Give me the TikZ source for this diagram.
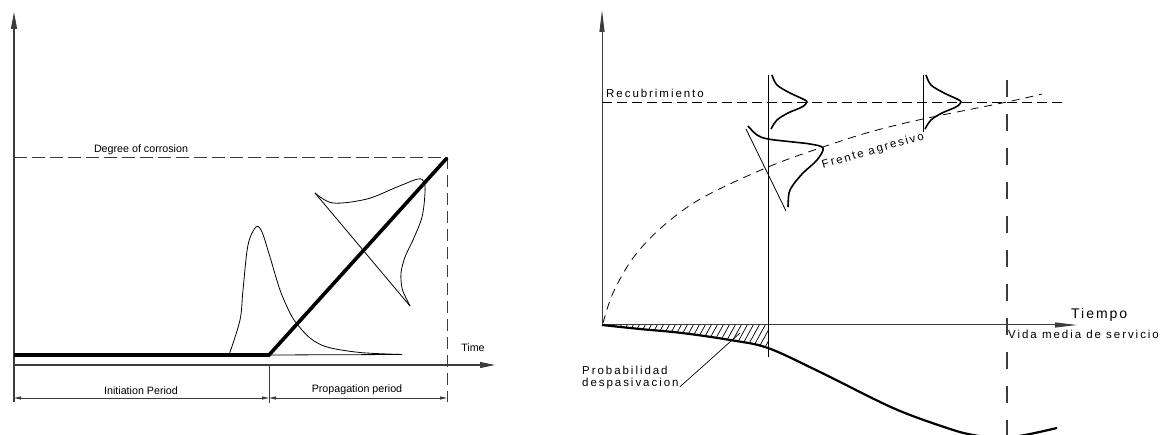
\documentclass[tikz,border=0pt]{standalone}
\usepackage{fontspec}
\setmainfont{Liberation Sans}
\newfontfamily\spacedfont[LetterSpace=17]{Liberation Sans}
\newfontfamily\tiempofont[LetterSpace=14]{Liberation Sans}
\usetikzlibrary{arrows.meta}
\definecolor{axisgray}{RGB}{60,60,60}
\begin{document}
\begin{tikzpicture}[x=1pt,y=-1pt,
  axis/.style={line width=1.1pt, draw=axisgray},
  thinline/.style={line width=0.8pt, draw=black},
  thickline/.style={line width=3.6pt, draw=black},
  distline/.style={line width=1.6pt, draw=black},
  lbl/.style={font=\fontsize{10.7}{12}\selectfont, inner sep=0pt},
  rlbl/.style={font=\spacedfont\fontsize{11.5}{13}\selectfont, inner sep=0pt},
  ldash/.style={line width=1pt, draw=axisgray, dash pattern=on 12.5pt off 5.5pt},
  rdashv/.style={line width=1.1pt, draw=axisgray, dash pattern=on 17pt off 17pt},
  rdashh/.style={line width=0.9pt, draw=black, dash pattern=on 10pt off 5pt},
  fdash/.style={line width=0.8pt, draw=black, dash pattern=on 8pt off 6pt},
  bigtip/.style={-{Triangle[length=17pt,width=6pt]}},
  rtip/.style={-{Triangle[length=22pt,width=5pt]}},
  dimtip/.style={{Triangle[length=7pt,width=3pt]}-{Triangle[length=7pt,width=3pt]}}
]
\useasboundingbox (0,0) rectangle (1163,435);

% ================= LEFT DIAGRAM =================
\coordinate (LO) at (14,365);
\coordinate (LYtop) at (14,12);
\coordinate (LYbot) at (14,402);
\coordinate (LXend) at (495,365);
\coordinate (Lknee) at (269,355);
\coordinate (Lstart) at (14,355);
\coordinate (Ltop) at (447,158);
\coordinate (Ldl) at (14,158);
\coordinate (Ldb) at (447,402);

\draw[axis] (LYbot) -- (LO);
\draw[axis, bigtip] (LO) -- (LYtop);
\draw[axis, -{Triangle[length=15pt,width=6pt]}] (LO) -- (LXend);

\draw[ldash] (Ldl) -- (Ltop) -- (Ldb);

% thin baseline under tail
\coordinate (Ltail) at (402,354.5);
\draw[thinline] (Lknee) -- (Ltail);

% skewed distribution (initiation)
\draw[thinline] plot[smooth, tension=0.55] coordinates {
 (229,355) (240,320) (243,290) (248,245) (256,227) (262,232) (270,257)
 (280,290) (290,313) (297,324) (310,338) (327,347) (360,352.5) (402,354.5)};

% rotated distribution (propagation)
\coordinate (Lc1) at (315,193);
\coordinate (Lc2) at (410,306);
\draw[thinline] (Lc1) -- (Lc2);
\draw[thinline] plot[smooth, tension=0.55] coordinates {
 (315,193) (333,203) (367,199) (397,187) (418,179) (424,182) (425,193)
 (422,217) (413,240) (405,257) (401,273) (402,288) (406,298) (410,306)};

% thick corrosion line
\draw[thickline, line join=miter] (Lstart) -- (Lknee) -- (Ltop);

% dimension lines
\coordinate (Ld1) at (14,398);
\coordinate (Ld2) at (269,398);
\coordinate (Ld3) at (447,398);
\coordinate (Ltk1) at (269,365);
\coordinate (Ltk2) at (269,403);
\draw[thinline, draw=axisgray] (Ltk1) -- (Ltk2);
\draw[thinline, draw=axisgray, dimtip] (Ld1) -- (Ld2);
\draw[thinline, draw=axisgray, dimtip] (Ld2) -- (Ld3);

\node[lbl] (degree) at (141,150) {Degree of corrosion};
\node[lbl] (time) at (473,348) {Time};
\node[lbl] (init) at (141,391) {Initiation Period};
\node[lbl] (prop) at (357,390) {Propagation period};

% ================= RIGHT DIAGRAM =================
\coordinate (RO) at (602,325);
\coordinate (RYtop) at (602,10);
\coordinate (RXend) at (1077,325);
\draw[axis, line width=1pt, rtip] (RO) -- (RYtop);
\draw[axis, line width=1pt, rtip] (RO) -- (RXend);

% hatched area
\begin{scope}
\clip plot[smooth, tension=0.55] coordinates {(602,325) (640,329) (682,333) (730,340) (768,348)}
      -- (768,325) -- cycle;
\foreach \i in {560,566,...,780} {
  \draw[line width=0.7pt] (\i,360) -- ++(22,-40);
}
\end{scope}

% recubrimiento line
\coordinate (Rr1) at (602,102);
\coordinate (Rr2) at (1062,102);
\draw[rdashh] (Rr1) -- (Rr2);

% vertical lines
\coordinate (Rv1a) at (768,75);
\coordinate (Rv1b) at (768,357);
\draw[thinline] (Rv1a) -- (Rv1b);
\coordinate (Rv2a) at (923,75);
\coordinate (Rv2b) at (923,132);
\draw[thinline] (Rv2a) -- (Rv2b);
\coordinate (Rv3a) at (1007,80);
\coordinate (Rv3b) at (1007,436);
\draw[rdashv] (Rv3a) -- (Rv3b);

% small distributions
\draw[distline] plot[smooth, tension=0.55] coordinates {
 (772,75) (777,85) (790,93) (803,99) (807,102) (802,107) (788,113) (777,120) (771,129)};
\draw[distline] plot[smooth, tension=0.55] coordinates {
 (926,75) (931,85) (944,93) (957,99) (961,102) (956,107) (942,113) (931,120) (925,129)};

% big rotated distribution
\coordinate (Rc1) at (746,129);
\coordinate (Rc2) at (786,211);
\draw[thinline] (Rc1) -- (Rc2);
\draw[distline] plot[smooth, tension=0.55] coordinates {
 (748,126) (757,135) (768,139) (793,142) (810,144) (823,148) (817,160)
 (803,173) (793,185) (789,193) (788,207)};

% aggressive front
\draw[fdash] plot[smooth, tension=0.55] coordinates {
 (603,323) (613,293) (633,258) (662,227) (702,198) (768,167) (823,147)
 (870,132) (923,119) (1007,102) (1042,94)};

% despassivation probability curve
\draw[line width=2.2pt] plot[smooth, tension=0.55] coordinates {
 (602,325) (640,329) (682,333) (730,340) (768,348) (820,372) (893,408)
 (947,428) (973,435) (1000,438) (1025,435) (1057,428)};

% labels
\node[rlbl, anchor=west] (recub) at (606,93) {Recubrimiento};
\node[rlbl, rotate=16] (frente) at (873,151) {Frente agresivo};
\node[font=\tiempofont\fontsize{14}{16}\selectfont, inner sep=0pt, anchor=west] (tiempo) at (1071,315) {Tiempo};
\node[rlbl, anchor=west] (vida) at (1008,334) {Vida media de servicio};
\node[rlbl, anchor=west] (prob) at (582,370) {Probabilidad};
\node[rlbl, anchor=west] (desp) at (582,384) {despasivacion};
\coordinate (leadend) at (740,333);
\draw[line width=0.7pt] ([xshift=1pt]desp.base east) -- (leadend);

\end{tikzpicture}
\end{document}
